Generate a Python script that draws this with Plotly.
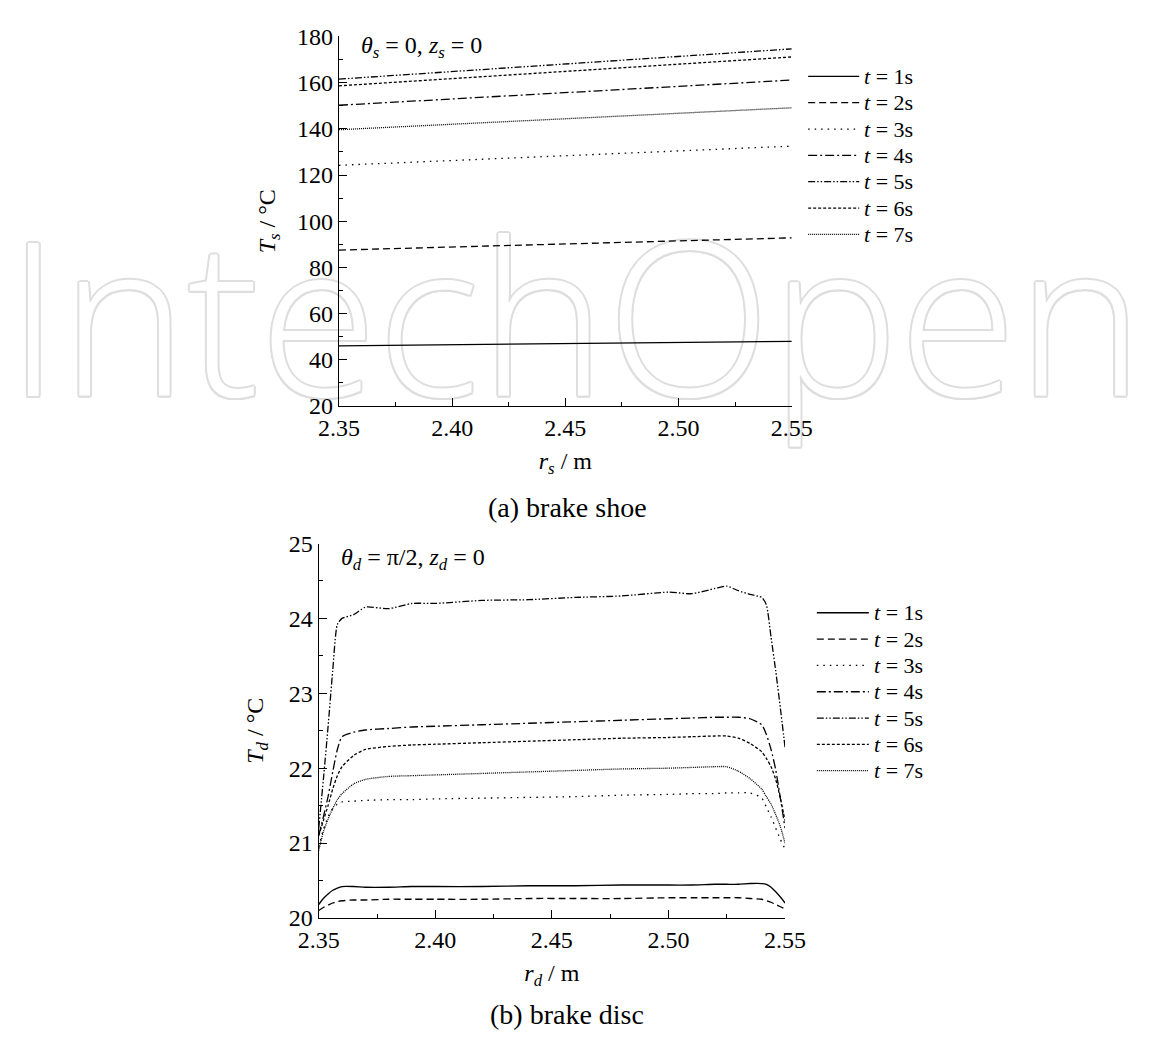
import plotly.graph_objects as go

# ---- (a) brake shoe: surface temperature along the radius ----
rs = [2.35, 2.40, 2.45, 2.50, 2.55]
shoe_t1 = [46.0, 46.5, 47.0, 47.5, 48.0]
shoe_t2 = [87.5, 88.8, 90.1, 91.4, 92.8]
shoe_t3 = [124.2, 126.3, 128.4, 130.5, 132.5]
shoe_t4 = [150.2, 152.9, 155.6, 158.4, 161.1]
shoe_t5 = [161.5, 164.8, 168.1, 171.4, 174.6]
shoe_t6 = [158.6, 161.7, 164.8, 167.9, 171.1]
shoe_t7 = [139.6, 142.0, 144.4, 146.7, 149.1]

# ---- (b) brake disc: surface temperature along the radius ----
rd = [2.350, 2.352, 2.354, 2.356, 2.358, 2.360, 2.365, 2.370, 2.380, 2.390,
      2.400, 2.420, 2.440, 2.460, 2.480, 2.500, 2.510, 2.520, 2.525, 2.530,
      2.535, 2.540, 2.542, 2.544, 2.546, 2.548, 2.550]
disc_t1 = [20.18, 20.26, 20.32, 20.37, 20.40, 20.42, 20.42, 20.41, 20.41, 20.42,
           20.42, 20.42, 20.43, 20.43, 20.44, 20.44, 20.44, 20.45, 20.45, 20.45,
           20.46, 20.46, 20.45, 20.41, 20.35, 20.28, 20.20]
disc_t2 = [20.10, 20.14, 20.17, 20.20, 20.22, 20.23, 20.24, 20.24, 20.25, 20.25,
           20.25, 20.25, 20.26, 20.26, 20.26, 20.27, 20.27, 20.27, 20.27, 20.27,
           20.26, 20.25, 20.23, 20.21, 20.18, 20.15, 20.12]
disc_t3 = [20.95, 21.18, 21.35, 21.46, 21.52, 21.55, 21.56, 21.57, 21.58, 21.58,
           21.59, 21.60, 21.61, 21.62, 21.64, 21.65, 21.66, 21.66, 21.67, 21.67,
           21.67, 21.60, 21.48, 21.35, 21.20, 21.05, 20.92]
disc_t4 = [21.10, 21.35, 21.62, 21.95, 22.25, 22.42, 22.48, 22.51, 22.53, 22.55,
           22.56, 22.58, 22.60, 22.62, 22.64, 22.66, 22.67, 22.68, 22.68, 22.68,
           22.66, 22.58, 22.45, 22.25, 21.98, 21.60, 21.20]
disc_t5 = [21.20, 21.85, 22.55, 23.30, 23.92, 24.00, 24.05, 24.15, 24.13, 24.20,
           24.20, 24.24, 24.25, 24.28, 24.30, 24.35, 24.33, 24.40, 24.43, 24.37,
           24.32, 24.28, 24.18, 23.75, 23.30, 22.80, 22.28]
disc_t6 = [21.10, 21.30, 21.50, 21.72, 21.90, 22.02, 22.17, 22.25, 22.29, 22.31,
           22.32, 22.34, 22.36, 22.38, 22.40, 22.41, 22.42, 22.43, 22.43, 22.40,
           22.33, 22.22, 22.13, 22.02, 21.85, 21.60, 21.30]
disc_t7 = [20.90, 21.15, 21.32, 21.46, 21.58, 21.66, 21.79, 21.85, 21.89, 21.90,
           21.91, 21.93, 21.95, 21.97, 21.99, 22.00, 22.01, 22.02, 22.02, 21.96,
           21.86, 21.72, 21.62, 21.52, 21.38, 21.22, 21.00]

series_names = ["<i>t</i> = 1s", "<i>t</i> = 2s", "<i>t</i> = 3s", "<i>t</i> = 4s",
                "<i>t</i> = 5s", "<i>t</i> = 6s", "<i>t</i> = 7s"]

# line styles, one per time step
dash_styles = ["solid", "7px,4px", "1.5px,5px", "9px,3px,2px,3px",
               "7px,2px,1.5px,2px,1.5px,2px", "3px,2px", "1px,1px"]

W, H = 1150, 1048
SERIF = "Liberation Serif, Times New Roman, serif"


def px_x(x):
    return x / W


def px_y(y):
    return 1 - y / H


fig = go.Figure()

# watermark lettering in the background subplot (outlined via text shadow)
OUTLINE = "#dedede"
fig.add_trace(go.Scatter(
    x=[0.5], y=[px_y(338)], mode="text", text=["IntechOpen"],
    textposition="middle center", hoverinfo="skip", showlegend=False,
    textfont=dict(family="Open Sans", size=215, color="white", weight=300,
                  shadow=f"2px 0 {OUTLINE}, -2px 0 {OUTLINE}, 0 2px {OUTLINE}, 0 -2px {OUTLINE}, "
                         f"1.5px 1.5px {OUTLINE}, -1.5px -1.5px {OUTLINE}, "
                         f"1.5px -1.5px {OUTLINE}, -1.5px 1.5px {OUTLINE}"),
    cliponaxis=False, xaxis="x", yaxis="y"))

shoe_series = [shoe_t1, shoe_t2, shoe_t3, shoe_t4, shoe_t5, shoe_t6, shoe_t7]
disc_series = [disc_t1, disc_t2, disc_t3, disc_t4, disc_t5, disc_t6, disc_t7]

for name, vals, dash in zip(series_names, shoe_series, dash_styles):
    fig.add_trace(go.Scatter(x=rs, y=vals, mode="lines", name=name, showlegend=False,
                             line=dict(color="black", width=1.3, dash=dash),
                             xaxis="x2", yaxis="y2"))

for name, vals, dash in zip(series_names, disc_series, dash_styles):
    fig.add_trace(go.Scatter(x=rd, y=vals, mode="lines", name=name, showlegend=False,
                             line=dict(color="black", width=1.3, dash=dash, shape="spline",
                                       smoothing=0.6),
                             xaxis="x3", yaxis="y3"))

tick_font = dict(family=SERIF, size=24, color="black")
title_font = dict(family=SERIF, size=24, color="black")


def axis_style(**kw):
    base = dict(showline=True, linecolor="black", linewidth=1.3, mirror=False,
                ticks="inside", ticklen=8, tickwidth=1.3, tickcolor="black",
                showgrid=False, zeroline=False, tickfont=tick_font,
                minor=dict(ticks="inside", ticklen=4, tickwidth=1.3, tickcolor="black",
                           showgrid=False))
    base.update(kw)
    return base


top_x = [330, 800]
top_y = [24, 403]
bot_x = [309, 793]
bot_y = [544, 928]

fig.update_layout(
    width=W, height=H, margin=dict(l=0, r=0, t=0, b=0),
    font=dict(family=SERIF, color="black"),
    paper_bgcolor="white", plot_bgcolor="rgba(0,0,0,0)", showlegend=False,
    xaxis=dict(domain=[0, 1], range=[0, 1], visible=False, fixedrange=True),
    yaxis=dict(domain=[0, 1], range=[0, 1], visible=False, fixedrange=True),
    xaxis2=axis_style(domain=[px_x(top_x[0]), px_x(top_x[1])], anchor="y2",
                      range=[2.35, 2.55], tickvals=[2.35, 2.40, 2.45, 2.50, 2.55],
                      tickformat=".2f", minor_dtick=0.025, minor_tick0=2.35,
                      title=dict(text="<i>r</i><sub><i>s</i></sub> / m", font=title_font,
                                 standoff=12)),
    yaxis2=axis_style(domain=[px_y(top_y[1]), px_y(top_y[0])], anchor="x2",
                      range=[20, 180], dtick=20, tick0=20, minor_dtick=10, minor_tick0=20,
                      title=dict(text="<i>T</i><sub><i>s</i></sub> / °C", font=title_font,
                                 standoff=14)),
    xaxis3=axis_style(domain=[px_x(bot_x[0]), px_x(bot_x[1])], anchor="y3",
                      range=[2.35, 2.55], tickvals=[2.35, 2.40, 2.45, 2.50, 2.55],
                      tickformat=".2f", minor_dtick=0.025, minor_tick0=2.35,
                      title=dict(text="<i>r</i><sub><i>d</i></sub> / m", font=title_font,
                                 standoff=12)),
    yaxis3=axis_style(domain=[px_y(bot_y[1]), px_y(bot_y[0])], anchor="x3",
                      range=[20, 25], dtick=1, tick0=20, minor_dtick=0.5, minor_tick0=20,
                      title=dict(text="<i>T</i><sub><i>d</i></sub> / °C", font=title_font,
                                 standoff=18)),
)

annotations = []
shapes = []

# condition labels inside each panel
annotations.append(dict(x=px_x(351), y=px_y(35), xref="paper", yref="paper",
                        xanchor="left", yanchor="middle", showarrow=False,
                        text="<i>θ</i><sub><i>s</i></sub> = 0, <i>z</i><sub><i>s</i></sub> = 0",
                        font=dict(family=SERIF, size=24, color="black")))
annotations.append(dict(x=px_x(330), y=px_y(560), xref="paper", yref="paper",
                        xanchor="left", yanchor="middle", showarrow=False,
                        text="<i>θ</i><sub><i>d</i></sub> = π/2, <i>z</i><sub><i>d</i></sub> = 0",
                        font=dict(family=SERIF, size=24, color="black")))

# panel captions
annotations.append(dict(x=px_x(567), y=px_y(507), xref="paper", yref="paper",
                        xanchor="center", yanchor="middle", showarrow=False,
                        text="(a) brake shoe", font=dict(family=SERIF, size=28, color="black")))
annotations.append(dict(x=px_x(567), y=px_y(1027), xref="paper", yref="paper",
                        xanchor="center", yanchor="middle", showarrow=False,
                        text="(b) brake disc", font=dict(family=SERIF, size=28, color="black")))

# legends drawn beside each panel
legend_specs = [
    dict(x0=817, x1=870, tx=873, y0=65, dy=27),
    dict(x0=826, x1=880, tx=883, y0=615, dy=27),
]
for spec in legend_specs:
    for i, (name, dash) in enumerate(zip(series_names, dash_styles)):
        yy = px_y(spec["y0"] + i * spec["dy"])
        shapes.append(dict(type="line", xref="paper", yref="paper",
                           x0=px_x(spec["x0"]), x1=px_x(spec["x1"]), y0=yy, y1=yy,
                           line=dict(color="black", width=1.3, dash=dash)))
        annotations.append(dict(x=px_x(spec["tx"]), y=yy, xref="paper", yref="paper",
                                xanchor="left", yanchor="middle", showarrow=False,
                                text=name, font=dict(family=SERIF, size=22, color="black")))

fig.update_layout(annotations=annotations, shapes=shapes)

fig.write_html("out.html")
